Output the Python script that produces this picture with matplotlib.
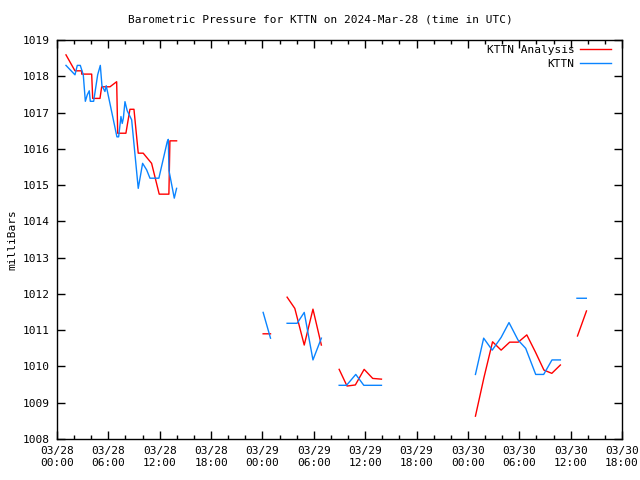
import numpy as np
import matplotlib
matplotlib.use("Agg")
import matplotlib.pyplot as plt
from matplotlib.ticker import MultipleLocator

nan = np.nan

# hours since 2024-03-28 00:00 UTC; NaN separates data gaps
analysis_hours = [1.05, 2.10, 2.88, 2.88, 4.05, 4.17, 5.02, 5.22, 6.19, 6.97, 7.09, 8.05,
                  8.52, 8.99, 9.49, 10.07, 11.05, 11.94, 13.07, 13.19, 13.97, nan,
                  24.08, 24.94, nan,
                  26.88, 27.78, 28.88, 29.90, 30.88, nan,
                  32.96, 33.88, 34.85, 35.88, 36.88, 37.90, nan,
                  48.88, 49.88, 50.88, 51.88, 52.88, 53.88, 54.88, 55.88, 56.88, 57.80, 58.80, nan,
                  60.80, 61.85]
analysis_mb = [1018.59, 1018.15, 1018.15, 1018.06, 1018.06, 1017.39, 1017.39, 1017.71, 1017.71,
               1017.85, 1016.43, 1016.43, 1017.09, 1017.09, 1015.88, 1015.88, 1015.60, 1014.75,
               1014.75, 1016.22, 1016.22, nan,
               1010.90, 1010.90, nan,
               1011.91, 1011.60, 1010.59, 1011.58, 1010.59, nan,
               1009.92, 1009.46, 1009.49, 1009.92, 1009.67, 1009.65, nan,
               1008.63, 1009.70, 1010.68, 1010.45, 1010.67, 1010.67, 1010.87, 1010.40, 1009.90,
               1009.81, 1010.04, nan,
               1010.84, 1011.53]

obs_hours = [1.05, 2.10, 2.37, 2.72, 3.07, 3.31, 3.54, 3.77, 3.89, 4.28, 4.75, 5.06, 5.25,
             5.60, 5.75, 7.00, 7.20, 7.47, 7.62, 7.75, 7.94, 8.20, 8.72, 9.49, 10.00, 10.47,
             10.86, 11.90, 12.88, 13.00, 13.08, 13.70, 13.97, nan,
             24.08, 24.94, nan,
             26.88, 28.05, 28.88, 29.90, 30.88, nan,
             32.96, 33.82, 34.90, 35.84, 37.90, nan,
             48.88, 49.84, 50.84, 51.88, 52.80, 53.85, 54.75, 55.92, 56.85, 57.82, 58.80, nan,
             60.74, 61.83]
obs_mb = [1018.30, 1018.04, 1018.30, 1018.30, 1018.04, 1017.31, 1017.49, 1017.60, 1017.31,
          1017.31, 1018.04, 1018.30, 1017.74, 1017.58, 1017.74, 1016.33, 1016.33, 1016.89,
          1016.70, 1016.84, 1017.30, 1017.05, 1016.80, 1014.91, 1015.60, 1015.42, 1015.19,
          1015.19, 1016.20, 1016.26, 1015.40, 1014.64, 1014.91, nan,
          1011.49, 1010.78, nan,
          1011.19, 1011.19, 1011.49, 1010.18, 1010.78, nan,
          1009.48, 1009.48, 1009.78, 1009.48, 1009.48, nan,
          1009.78, 1010.78, 1010.45, 1010.80, 1011.21, 1010.73, 1010.50, 1009.78, 1009.78,
          1010.18, 1010.18, nan,
          1011.88, 1011.88]

xtick_labels = ["03/28\n00:00", "03/28\n06:00", "03/28\n12:00", "03/28\n18:00",
                "03/29\n00:00", "03/29\n06:00", "03/29\n12:00", "03/29\n18:00",
                "03/30\n00:00", "03/30\n06:00", "03/30\n12:00", "03/30\n18:00"]

plt.rcParams['font.family'] = ['DejaVu Sans Mono']
plt.rcParams['font.size'] = 8

fig = plt.figure(figsize=(6.4, 4.8), dpi=100)
ax = fig.add_axes([57/640, 1-439/480, 565/640, 399/480])

ax.plot(analysis_hours, analysis_mb, color='#ff0000', lw=1.0, label='KTTN Analysis')
ax.plot(obs_hours, obs_mb, color='#0a84ff', lw=1.0, label='KTTN')

ax.set_xlim(0, 66)
ax.set_ylim(1008, 1019)
ax.set_xticks(np.arange(0, 67, 6))
ax.set_xticklabels(xtick_labels)
ax.xaxis.set_minor_locator(MultipleLocator(2))
ax.set_yticks(np.arange(1008, 1020, 1))
ax.tick_params(axis='both', which='both', direction='in', top=True, right=True, labelsize=8)
ax.tick_params(axis='both', which='major', length=6, width=1, pad=5)
ax.tick_params(axis='x', which='minor', length=3, width=1)
for s in ax.spines.values():
    s.set_linewidth(1)

ax.set_ylabel('milliBars', fontsize=8)
fig.text(0.5, 1-19/480, 'Barometric Pressure for KTTN on 2024-Mar-28 (time in UTC)',
         ha='center', va='center', fontsize=8)

leg = ax.legend(loc='upper right', frameon=False, markerfirst=False, fontsize=8,
                handlelength=2.8, handletextpad=0.5, labelspacing=0.35,
                borderaxespad=0.0, borderpad=0.0,
                bbox_to_anchor=(611/640, 1-45/480), bbox_transform=fig.transFigure)
for t in leg.get_texts():
    t.set_ha('right')

fig.savefig('out.png', dpi=100)
